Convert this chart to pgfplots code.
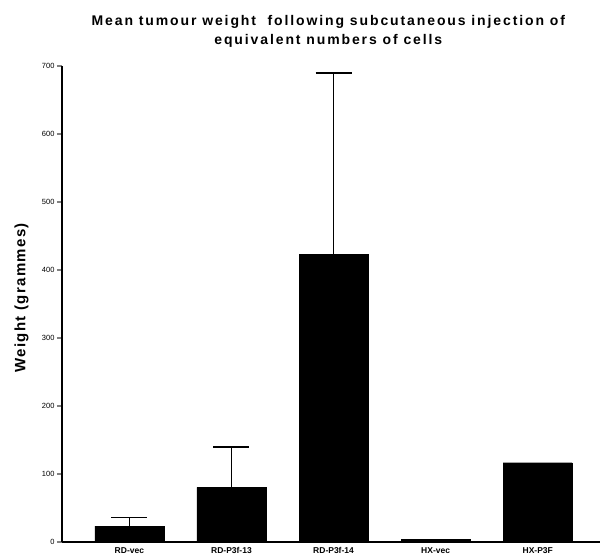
\documentclass[border=0pt]{standalone}
\usepackage{fontspec}
\setmainfont{Liberation Sans}
\usepackage{pgfplots}
\pgfplotsset{compat=1.18}
\begin{document}
\begin{tikzpicture}
\useasboundingbox (-62pt,-13pt) rectangle (542pt,542pt);
\begin{axis}[
  at={(0,0)}, anchor=south west,
  scale only axis,
  width=538pt, height=476pt,
  xmin=-0.66, xmax=4.61,
  ymin=0, ymax=700,
  axis lines=left,
  axis line style={-, line width=1.4pt},
  ytick={0,100,...,700},
  xtick={0,1,2,3,4},
  xticklabels={RD-vec,RD-P3f-13,RD-P3f-14,HX-vec,HX-P3F},
  x tick label style={font=\fontsize{8.5}{9}\selectfont\bfseries, yshift=3pt},
  y tick label style={font=\fontsize{7.5}{8}\selectfont, xshift=1pt},
  /pgf/number format/assume math mode=true,
  major x tick style={draw=none},
  major y tick style={line width=1.2pt},
  tick align=outside,
  major tick length=5pt,
  ylabel={Weight (grammes)},
  ylabel style={at={(axis description cs:-0.075,0.513)}, anchor=center, font=\fontsize{15}{16}\selectfont\bfseries\addfontfeatures{LetterSpace=9}},
  title={Mean tumour weight\ \ following subcutaneous injection of\\ equivalent numbers of cells},
  title style={at={(axis description cs:0.495,1)}, anchor=south, yshift=9pt, align=center, font=\fontsize{14}{19}\selectfont\bfseries\addfontfeatures{LetterSpace=13.5}},
  clip=false,
]
\addplot[ybar, bar width=69pt, fill=black, draw=black,
  error bars/.cd, y dir=plus, y explicit,
  error bar style={line width=1.5pt, black},
  error mark options={rotate=90, mark size=18pt, line width=1.5pt, black}]
  coordinates {
    (0,23.5) +- (0,12.2)
    (1,80.4) +- (0,59.6)
    (2,423.5) +- (0,266.5)
  };
\addplot[ybar, bar width=69pt, fill=black, draw=black]
  coordinates {
    (3,4)
    (4,116.6)
  };
\end{axis}
\end{tikzpicture}
\end{document}
